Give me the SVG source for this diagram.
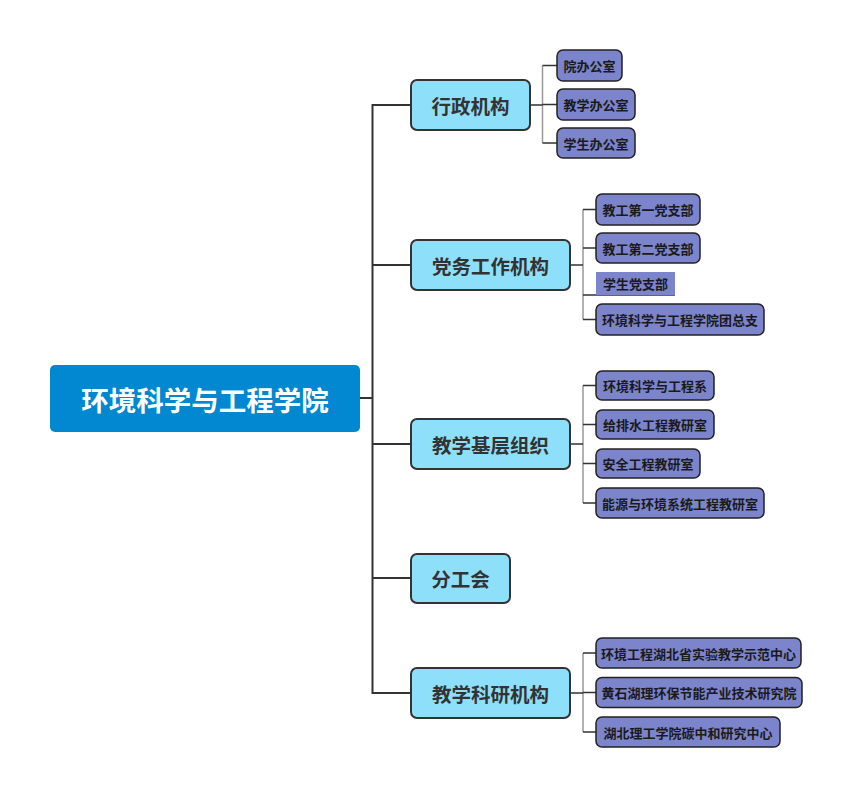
<svg xmlns="http://www.w3.org/2000/svg" width="855" height="797" viewBox="0 0 855 797">
<style>
.root{fill:#0288d1}
.rt{font-family:"Noto Sans CJK SC","Noto Sans",sans-serif;font-weight:bold;font-size:27.5px;fill:#ffffff;text-anchor:middle;dominant-baseline:central}
.l1{fill:#8ee0fa;stroke:#333333;stroke-width:2}
.t1{font-family:"Noto Sans CJK SC","Noto Sans",sans-serif;font-weight:bold;font-size:19.5px;fill:#333333;text-anchor:middle;dominant-baseline:central}
.l2{fill:#7c84cc;stroke:#222222;stroke-width:1.5}
.t2{font-family:"Noto Sans CJK SC","Noto Sans",sans-serif;font-weight:bold;font-size:13px;fill:#1a1a1a;text-anchor:middle;dominant-baseline:central}
.main{stroke:#333333;stroke-width:2;fill:none}
.sub{stroke:#999999;stroke-width:1.5;fill:none}
.tick{stroke:#333333;stroke-width:1.5;fill:none}
</style>
<rect width="855" height="797" fill="#ffffff"/>
<g id="connectors">
<path class="main" d="M360 398H372.5M372.5 104V694M372.5 105H411M372.5 265H411M372.5 444H411M372.5 578H411M372.5 693H411"/>
<path class="sub" d="M542.5 65.5V143M583 209.5V319.5M583 385.5V503M583 653V732"/>
<path class="tick" d="M530 105H542.5M542.5 65.5H557M542.5 104.5H557M542.5 143H557"/>
<path class="tick" d="M570 265H583M583 209.5H596M583 248H596M583 295H675M583 319.5H596"/>
<path class="tick" d="M570 444H583M583 385.5H596M583 424.5H596M583 463.5H596M583 503H596"/>
<path class="tick" d="M570 693H583M583 653H596M583 692.5H596M583 732H596"/>
</g>
<g id="root"><rect class="root" x="50" y="365" width="310" height="67" rx="5"/><text class="rt" x="205" y="398.5">环境科学与工程学院</text></g>
<g id="n1"><rect class="l1" x="411" y="80" width="119" height="50" rx="6"/><text class="t1" x="470.5" y="105">行政机构</text></g>
<g id="n2"><rect class="l1" x="411" y="240" width="159" height="50" rx="6"/><text class="t1" x="490.5" y="265">党务工作机构</text></g>
<g id="n3"><rect class="l1" x="411" y="419" width="159" height="50" rx="6"/><text class="t1" x="490.5" y="444">教学基层组织</text></g>
<g id="n4"><rect class="l1" x="411" y="554" width="99" height="49" rx="6"/><text class="t1" x="460.5" y="578.5">分工会</text></g>
<g id="n5"><rect class="l1" x="411" y="668" width="159" height="50" rx="6"/><text class="t1" x="490.5" y="693">教学科研机构</text></g>
<g id="n1a"><rect class="l2" x="557" y="50" width="65" height="31" rx="6"/><text class="t2" x="589.5" y="65.5">院办公室</text></g>
<g id="n1b"><rect class="l2" x="557" y="89" width="78" height="31" rx="6"/><text class="t2" x="596" y="104.5">教学办公室</text></g>
<g id="n1c"><rect class="l2" x="557" y="128" width="78" height="30" rx="6"/><text class="t2" x="596" y="143">学生办公室</text></g>
<g id="n2a"><rect class="l2" x="596" y="194" width="104" height="31" rx="6"/><text class="t2" x="648" y="209.5">教工第一党支部</text></g>
<g id="n2b"><rect class="l2" x="596" y="233" width="104" height="30" rx="6"/><text class="t2" x="648" y="248">教工第二党支部</text></g>
<g id="n2c"><rect x="596" y="272" width="79" height="23" fill="#7c84cc"/><text class="t2" x="635.5" y="283">学生党支部</text></g>
<g id="n2d"><rect class="l2" x="596" y="304" width="168" height="31" rx="6"/><text class="t2" x="680" y="319.5">环境科学与工程学院团总支</text></g>
<g id="n3a"><rect class="l2" x="596" y="371" width="118" height="29" rx="6"/><text class="t2" x="655" y="385.5">环境科学与工程系</text></g>
<g id="n3b"><rect class="l2" x="596" y="410" width="118" height="29" rx="6"/><text class="t2" x="655" y="424.5">给排水工程教研室</text></g>
<g id="n3c"><rect class="l2" x="596" y="449" width="104" height="29" rx="6"/><text class="t2" x="648" y="463.5">安全工程教研室</text></g>
<g id="n3d"><rect class="l2" x="596" y="488" width="168" height="30" rx="6"/><text class="t2" x="680" y="503">能源与环境系统工程教研室</text></g>
<g id="n5a"><rect class="l2" x="596" y="638" width="205" height="30" rx="6"/><text class="t2" x="698.5" y="653">环境工程湖北省实验教学示范中心</text></g>
<g id="n5b"><rect class="l2" x="596" y="677.5" width="206" height="30" rx="6"/><text class="t2" x="699" y="692.5">黄石湖理环保节能产业技术研究院</text></g>
<g id="n5c"><rect class="l2" x="596" y="717" width="184" height="30" rx="6"/><text class="t2" x="688" y="732">湖北理工学院碳中和研究中心</text></g>
</svg>
